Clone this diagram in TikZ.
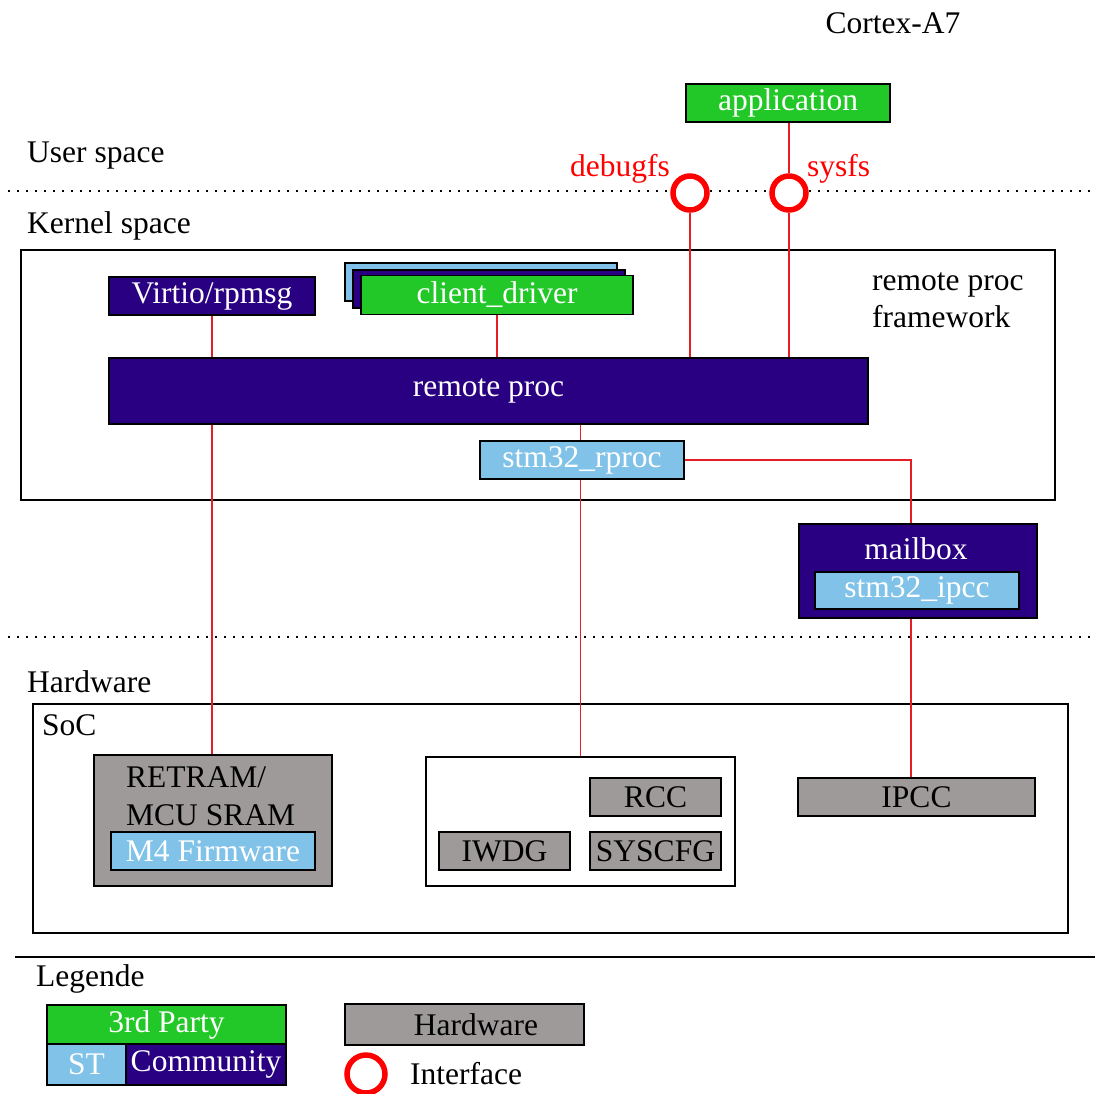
\documentclass[tikz,border=0pt]{standalone}
\usepackage{fontspec}
\setmainfont{Liberation Serif}
\begin{document}
\definecolor{indigo}{RGB}{42,0,130}
\definecolor{leaf}{RGB}{34,200,40}
\definecolor{sky}{RGB}{128,194,232}
\definecolor{stone}{RGB}{158,154,154}
\definecolor{wire}{RGB}{228,30,36}
\begin{tikzpicture}[x=1pt,y=-1pt,
  font=\fontsize{31.5}{37}\selectfont,
  blk/.style={draw=black,line width=1.6pt,inner sep=0pt,anchor=center},
  indigobox/.style={blk,fill=indigo,text=white},
  greenbox/.style={blk,fill=leaf,text=white},
  skybox/.style={blk,fill=sky,text=white},
  hwbox/.style={blk,fill=stone,text=black},
  frame/.style={draw=black,line width=1.6pt},
  link/.style={draw=wire,line width=1.3pt},
  iface/.style={circle,draw=red,line width=5.5pt,fill=white,minimum size=34pt,inner sep=0pt},
  sep/.style={line width=2pt,dash pattern=on 2pt off 7pt},
  lbl/.style={anchor=base west,inner sep=0pt}]
\useasboundingbox (0,0) rectangle (1095,1093);

% layer separators
\draw[sep] (8,191) -- (1095,191);
\draw[sep] (8,637) -- (1095,637);
\draw[line width=1.6pt] (15,957) -- (1095,957);

% layer titles
\node[anchor=base,inner sep=0pt] (cortex) at (893,33) {Cortex-A7};
\node[lbl] (userspace) at (27,162) {User space};
\node[lbl] (kernelspace) at (27,233) {Kernel space};
\node[lbl] (hardware) at (27,692) {Hardware};
\node[lbl] (legende) at (36,986) {Legende};

% kernel framework frame
\draw[frame] (21,250) rectangle (1055,500);
\node[lbl] (fwk1) at (872,290) {remote proc};
\node[lbl] (fwk2) at (872,327) {framework};

% user application
\node[greenbox,minimum width=204pt,minimum height=38pt] (app) at (788,103) {application};

% kernel components
\node[indigobox,minimum width=206pt,minimum height=38pt] (virtio) at (212,296) {Virtio/rpmsg};
\node[skybox,minimum width=272pt,minimum height=38pt] (clientc) at (481,282) {};
\node[indigobox,minimum width=272pt,minimum height=38pt] (clientb) at (489,289) {};
\node[greenbox,minimum width=272pt,minimum height=39pt] (client) at (497,295) {client\_driver};
\node[indigobox,minimum width=759pt,minimum height=66pt] (rproc) at (488.5,391) {remote proc};
\node[skybox,minimum width=204pt,minimum height=38pt] (srproc) at (582,460) {stm32\_rproc};

% mailbox with its driver
\node[indigobox,minimum width=238pt,minimum height=94pt] (mailbox) at (918,571) {};
\node[text=white,anchor=base,inner sep=0pt] (mailboxtxt) at (916,559) {mailbox};
\node[skybox,minimum width=204pt,minimum height=37pt] (ipccdrv) at (917,590.5) {stm32\_ipcc};

% hardware
\draw[frame] (33,704) rectangle (1068,933);
\node[lbl] (soc) at (42,735) {SoC};
\node[hwbox,minimum width=238pt,minimum height=131pt] (retram) at (213,820.5) {};
\node[lbl] (retramtxt) at (126,787) {RETRAM/};
\node[lbl] (mcusram) at (126,825) {MCU SRAM};
\node[skybox,minimum width=204pt,minimum height=38pt] (fw) at (213,851) {M4 Firmware};
\node[blk,fill=white,minimum width=309pt,minimum height=129pt] (periph) at (580.5,821.5) {};
\node[hwbox,minimum width=131pt,minimum height=38pt] (rcc) at (655.5,797) {RCC};
\node[hwbox,minimum width=131pt,minimum height=38pt] (iwdg) at (504.5,851) {IWDG};
\node[hwbox,minimum width=131pt,minimum height=38pt] (syscfg) at (655.5,851) {SYSCFG};
\node[hwbox,minimum width=237pt,minimum height=38pt] (ipcc) at (916.5,797) {IPCC};

% interfaces
\node[iface] (dbg) at (690,193) {};
\node[iface] (sys) at (789,193) {};
\node[text=red,anchor=base east,inner sep=0pt] (dbgtxt) at (670,176) {debugfs};
\node[text=red,anchor=base west,inner sep=0pt] (systxt) at (807,176) {sysfs};
\coordinate (mbx) at (911,0);

% connections
\draw[link] (sys |- app.south) -- (sys.north);
\draw[link] (sys.south) -- (sys |- rproc.north);
\draw[link] (dbg.south) -- (dbg |- rproc.north);
\draw[link] (virtio.south) -- (virtio.south |- rproc.north);
\draw[link] (client.south) -- (client.south |- rproc.north);
\draw[link] (virtio.south |- rproc.south) -- (virtio.south |- retram.north);
\draw[link] (periph.north |- rproc.south) -- (periph.north |- srproc.north);
\draw[link] (periph.north |- srproc.south) -- (periph.north);
\draw[link] (srproc.east) -| (mbx |- mailbox.north);
\draw[link] (mbx |- mailbox.south) -- (mbx |- ipcc.north);

% legend
\node[greenbox,minimum width=239pt,minimum height=39pt] (lgthird) at (166.5,1024.5) {3rd Party};
\node[skybox,minimum width=79pt,minimum height=41pt] (lgst) at (86.5,1064.5) {ST};
\node[indigobox,minimum width=160pt,minimum height=41pt] (lgcom) at (206,1064.5) {Community};
\node[hwbox,minimum width=239pt,minimum height=41pt] (lghw) at (464.5,1024.5) {};
\node[anchor=center,inner sep=0pt] (lghwtxt) at (476,1025) {Hardware};
\node[iface,minimum size=38pt] (lgif) at (366,1074) {};
\node[lbl] (lgiftxt) at (410,1084) {Interface};
\end{tikzpicture}
\end{document}
